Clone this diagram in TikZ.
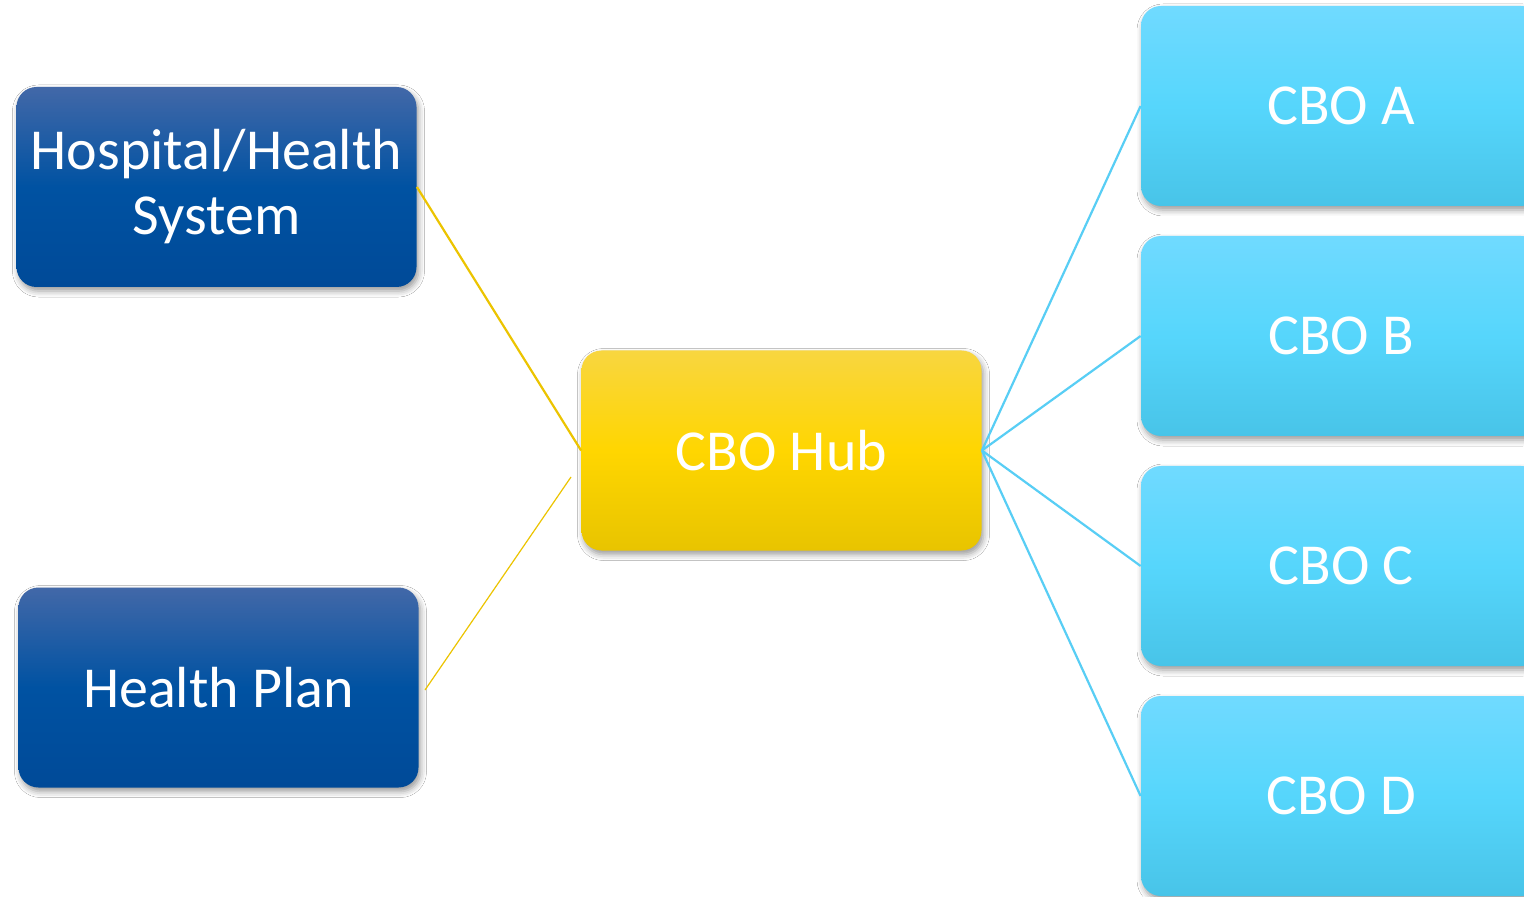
\documentclass[tikz,border=0pt]{standalone}
\usepackage{fontspec}
\setmainfont{Carlito}
\usetikzlibrary{shadows,shadows.blur}
\definecolor{navytop}{RGB}{66,104,168}
\definecolor{navymid}{RGB}{0,82,162}
\definecolor{navybot}{RGB}{0,74,152}
\definecolor{goldtop}{RGB}{248,214,64}
\definecolor{goldmid}{RGB}{255,214,0}
\definecolor{goldbot}{RGB}{232,196,0}
\definecolor{skytop}{RGB}{112,218,255}
\definecolor{skymid}{RGB}{86,214,252}
\definecolor{skybot}{RGB}{72,196,232}
\definecolor{goldline}{RGB}{236,196,0}
\definecolor{skyline}{RGB}{88,206,245}
\tikzset{
  boxbase/.style={rectangle, rounded corners=10pt, minimum width=200pt, minimum height=100pt,
    text=white, align=center, font=\fontsize{29pt}{32.5pt}\selectfont, inner sep=0pt,
    blur shadow={shadow xshift=1pt, shadow yshift=-2pt, shadow blur radius=3pt, shadow opacity=40}},
  navybox/.style={boxbase, top color=navytop, bottom color=navybot, middle color=navymid},
  goldbox/.style={boxbase, top color=goldtop, bottom color=goldbot, middle color=goldmid},
  skybox/.style={boxbase, top color=skytop, bottom color=skybot, middle color=skymid},
  goldlink/.style={draw=goldline, line width=1.1pt},
  thinlink/.style={draw=goldline, line width=0.6pt},
  skylink/.style={draw=skyline, line width=1.1pt}
}
\begin{document}
\begin{tikzpicture}[x=0.5pt, y=-0.5pt]
\useasboundingbox (0,0) rectangle (1524,897);
\clip (0,0) rectangle (1524,897);
\fill[white] (0,0) rectangle (1524,897);
\node[navybox] (hosp) at (216.5,187) {Hospital/Health\\System};
\node[navybox] (plan) at (218.5,687.5) {Health Plan};
\node[goldbox] (hub) at (781.5,450.5) {CBO Hub};
\node[skybox] (cboa) at (1341,106) {CBO A};
\node[skybox] (cbob) at (1341,336) {CBO B};
\node[skybox] (cboc) at (1341,566) {CBO C};
\node[skybox] (cbod) at (1341,796) {CBO D};
\coordinate (planend) at (425,690);
\coordinate (hubend) at (571,477);
\draw[goldlink] (hosp.east) -- (hub.west);
\draw[thinlink] (planend) -- (hubend);
\draw[skylink] (hub.east) -- (cboa.west);
\draw[skylink] (hub.east) -- (cbob.west);
\draw[skylink] (hub.east) -- (cboc.west);
\draw[skylink] (hub.east) -- (cbod.west);
\end{tikzpicture}
\end{document}
